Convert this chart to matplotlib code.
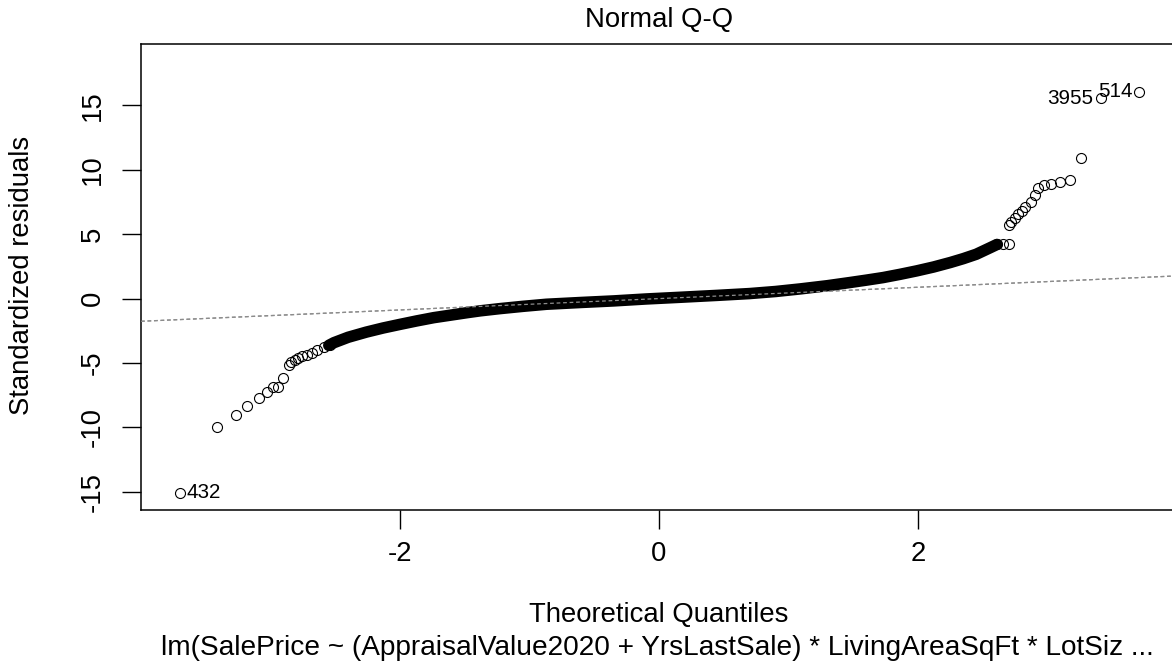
import matplotlib
matplotlib.use("Agg")
import matplotlib.pyplot as plt

plt.rcParams["font.family"] = ["Liberation Sans", "DejaVu Sans"]
plt.rcParams["axes.unicode_minus"] = False

# dense middle part of the Q-Q curve (thousands of overlapping circles -> solid band)
band_q = [-2.55, -2.51, -2.4, -2.26, -2.13, -2.0, -1.87, -1.74, -1.6, -1.48, -1.38,
          -1.23, -1.05, -0.87, -0.6, -0.35, -0.1, 0.16, 0.45, 0.7, 0.9, 1.09, 1.3,
          1.47, 1.6, 1.73, 1.86, 1.99, 2.12, 2.25, 2.35, 2.45, 2.56, 2.61]
band_r = [-3.63, -3.42, -3.0, -2.6, -2.28, -2.0, -1.73, -1.48, -1.27, -1.09, -0.95,
          -0.78, -0.6, -0.44, -0.3, -0.18, -0.03, 0.1, 0.25, 0.39, 0.55, 0.75, 1.0,
          1.24, 1.43, 1.63, 1.88, 2.15, 2.45, 2.8, 3.1, 3.44, 3.96, 4.2]

# individually visible points in the tails
lo_q = [-3.70, -3.41, -3.27, -3.18, -3.09, -3.03, -2.98, -2.94, -2.90, -2.86,
        -2.84, -2.81, -2.79, -2.76, -2.72, -2.68, -2.64, -2.59, -2.54]
lo_r = [-15.05, -9.98, -9.05, -8.31, -7.69, -7.28, -6.87, -6.84, -6.19, -5.16,
        -4.93, -4.74, -4.62, -4.48, -4.35, -4.20, -4.02, -3.76, -3.63]
hi_q = [2.61, 2.66, 2.70, 2.70, 2.72, 2.75, 2.77, 2.80, 2.83, 2.87,
        2.90, 2.93, 2.97, 3.03, 3.10, 3.17, 3.26, 3.41, 3.71]
hi_r = [4.27, 4.27, 4.27, 5.70, 5.95, 6.29, 6.60, 6.81, 7.12, 7.51,
        8.03, 8.55, 8.80, 8.86, 9.01, 9.19, 10.88, 15.54, 16.03]

# labelled extreme observations
id_q = [-3.70, 3.41, 3.71]
id_r = [-15.05, 15.54, 16.03]
id_text = ["432", "3955", "514"]

QQ_INTERCEPT = 0.0
QQ_SLOPE = 0.44

x_ticks = [-2, 0, 2]
y_ticks = [-15, -10, -5, 0, 5, 10, 15]

FS = 19.8

fig = plt.figure(figsize=(11.72, 6.63), dpi=100)
W, H = 1172, 663
ax = fig.add_axes([141 / W, 1 - 510 / H, 1036 / W, 466 / H])

ax.axline((0, QQ_INTERCEPT), slope=QQ_SLOPE, color="#8c8c8c", lw=0.9, ls=(0, (3, 2.2)), zorder=1)
ax.plot(band_q, band_r, "-", color="black", lw=8.3, solid_capstyle="round",
        solid_joinstyle="round", zorder=2)
for qs, rs in [(lo_q, lo_r), (hi_q, hi_r)]:
    ax.plot(qs, rs, "o", ls="none", mfc="none", mec="black", ms=7.2, mew=0.8, zorder=3)
# keep the dashed reference line visible on top of the band, as in R's overplotting
ax.axline((0, QQ_INTERCEPT), slope=QQ_SLOPE, color="#8c8c8c", lw=0.9, ls=(0, (3, 2.2)), zorder=4)

for q, r, t in zip(id_q, id_r, id_text):
    if q < 0:
        ax.annotate(t, (q, r), xytext=(5, 0), textcoords="offset points",
                    ha="left", va="center", fontsize=FS * 0.75)
    else:
        ax.annotate(t, (q, r), xytext=(-5, 0), textcoords="offset points",
                    ha="right", va="center", fontsize=FS * 0.75)

ax.set_xlim(-4.0, 4.0)
ax.set_ylim(-16.4, 19.75)
ax.set_xticks(x_ticks)
ax.set_yticks(y_ticks)
ax.tick_params(axis="both", length=13.5, width=1, labelsize=FS, color="black")
ax.tick_params(axis="x", pad=9)
ax.tick_params(axis="y", pad=12, labelrotation=90)
for lbl in ax.get_yticklabels():
    lbl.set_va("center")
for s in ax.spines.values():
    s.set_linewidth(1.1)

ax.text(0.5, 1.0515, "Normal Q-Q", transform=ax.transAxes, ha="center", va="center", fontsize=FS)
ax.text(0.5, -0.225, "Theoretical Quantiles", transform=ax.transAxes, ha="center", va="center", fontsize=FS)
ax.text(0.498, -0.296, "lm(SalePrice ~ (AppraisalValue2020 + YrsLastSale) * LivingAreaSqFt * LotSiz ...",
        transform=ax.transAxes, ha="center", va="center", fontsize=20.2)
ax.text(-0.1149, 0.503, "Standardized residuals", transform=ax.transAxes, ha="center", va="center",
        rotation=90, fontsize=FS)

fig.savefig("out.png", dpi=100)
plt.close(fig)
